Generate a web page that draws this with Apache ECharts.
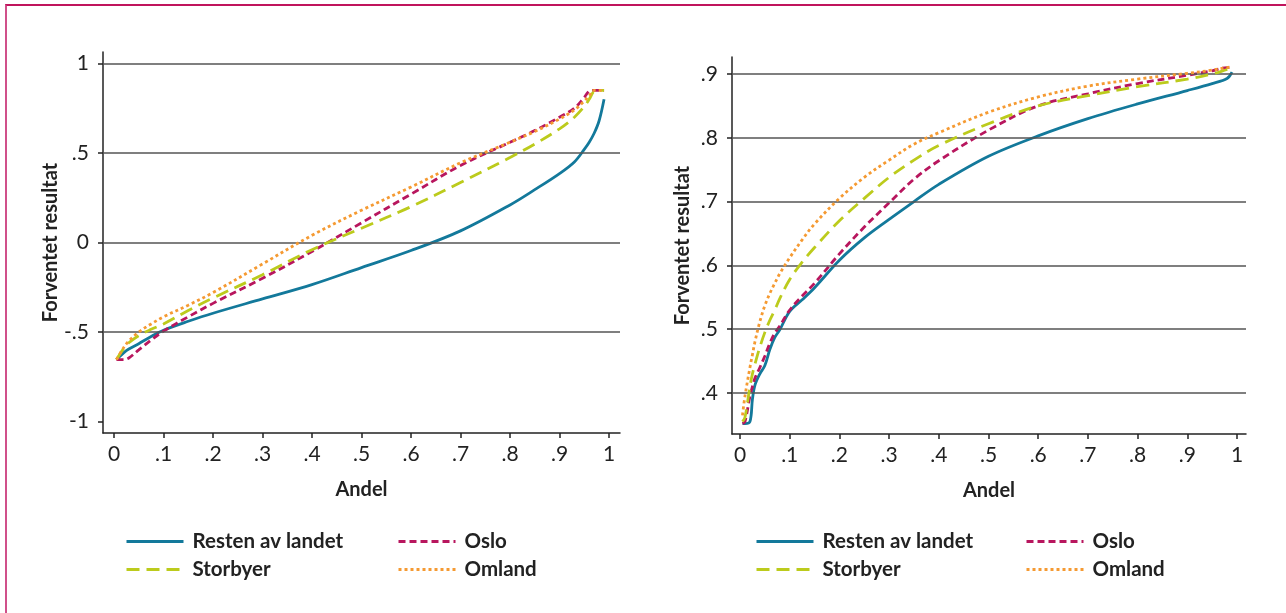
<!DOCTYPE html>
<html>
<head>
<meta charset="utf-8">
<script src="https://cdn.jsdelivr.net/npm/echarts@6/dist/echarts.min.js"></script>
<style>
html,body{margin:0;padding:0;background:#fff;}
#frame{position:absolute;left:5px;top:4px;width:1290px;height:620px;border-left:2px solid #d0508a;border-top:2px solid #c0145c;box-sizing:border-box;}
#chart{position:absolute;left:0;top:0;width:1286px;height:613px;}
</style>
</head>
<body>
<div id="frame"></div>
<div id="chart"></div>
<script>
// ---- data ----
const seriesNames = ['Resten av landet', 'Oslo', 'Storbyer', 'Omland'];
const xTicks = [0, 0.1, 0.2, 0.3, 0.4, 0.5, 0.6, 0.7, 0.8, 0.9, 1];
const xTickLabels = ['0', '.1', '.2', '.3', '.4', '.5', '.6', '.7', '.8', '.9', '1'];
const leftYTicks = [-1, -0.5, 0, 0.5, 1];
const leftYTickLabels = ['-1', '-.5', '0', '.5', '1'];
const leftGridLines = [-0.5, 0, 0.5, 1];
const rightYTicks = [0.4, 0.5, 0.6, 0.7, 0.8, 0.9];
const rightYTickLabels = ['.4', '.5', '.6', '.7', '.8', '.9'];

// Left panel
const leftX = [0.005,0.02,0.03,0.05,0.075,0.1,0.15,0.2,0.3,0.4,0.5,0.6,0.7,0.8,0.85,0.9,0.93,0.95,0.96,0.97,0.98,0.99];
const leftResten = [-.654,-.615,-.595,-.565,-.525,-.49,-.44,-.395,-.315,-.235,-.14,-.045,.065,.21,.295,.385,.45,.52,.56,.61,.68,.80];
const leftOslo = [-.654,-.654,-.645,-.6,-.545,-.495,-.415,-.34,-.2,-.05,.11,.27,.43,.56,.625,.70,.75,.81,.845,.85,.85,.85];
const leftStorbyer = [-.654,-.59,-.56,-.52,-.485,-.455,-.38,-.31,-.18,-.04,.08,.2,.335,.475,.55,.635,.70,.76,.80,.845,.85,.85];
const leftOmland = [-.654,-.585,-.55,-.5,-.455,-.415,-.35,-.28,-.12,.04,.18,.31,.445,.56,.62,.69,.74,.79,.82,.85,.85,.85];

// Right panel
const rightX = [0.005,0.01,0.02,0.025,0.03,0.04,0.05,0.06,0.07,0.08,0.1,0.125,0.15,0.2,0.25,0.3,0.35,0.4,0.5,0.6,0.7,0.8,0.9,0.95,0.98,0.99];
const rightResten = [.352,.352,.355,.39,.412,.43,.443,.468,.487,.499,.528,.546,.565,.608,.643,.672,.700,.727,.771,.803,.830,.853,.874,.885,.893,.903];
const rightOslo = [.352,.355,.395,.41,.423,.44,.458,.478,.494,.505,.53,.552,.572,.618,.66,.698,.735,.764,.812,.85,.869,.885,.898,.905,.91,.91];
const rightStorbyer = [.355,.362,.41,.43,.445,.472,.495,.514,.53,.548,.578,.605,.628,.67,.705,.738,.765,.788,.822,.85,.866,.88,.892,.9,.907,.909];
const rightOmland = [.365,.395,.44,.46,.48,.512,.537,.556,.572,.587,.612,.64,.665,.705,.738,.765,.79,.808,.84,.864,.881,.892,.901,.906,.91,.911];

// ---- styles ----
const FONT = 'Lato, "Noto Sans", sans-serif';
const TXT = '#222';
const styles = [
  {color: '#13799b', type: 'solid'},
  {color: '#b8165e', type: [7, 4]},
  {color: '#bccb1c', type: [13, 7]},
  {color: '#f59a32', type: [3, 3]}
];

function zip(xs, ys) { return xs.map((x, i) => [x, ys[i]]); }

function makeX(gridIndex) {
  return {
    type: 'value', gridIndex,
    min: gridIndex === 0 ? -0.0222 : -0.0161,
    max: gridIndex === 0 ? 1.0222 : 1.0181,
    name: 'Andel', nameLocation: 'middle', nameGap: 47,
    nameTextStyle: {fontFamily: FONT, fontSize: 20, color: TXT, fontWeight: 'bold'},
    axisLine: {show: true, onZero: false, lineStyle: {color: '#222', width: 1.5}},
    axisTick: {show: true, length: 5, customValues: xTicks, lineStyle: {color: '#222', width: 1.5}},
    axisLabel: {
      customValues: xTicks, margin: 11, fontFamily: FONT, fontSize: 21, color: TXT,
      formatter: v => xTickLabels[xTicks.findIndex(t => Math.abs(t - v) < 1e-9)] ?? ''
    },
    splitLine: {show: false}
  };
}
function makeY(gridIndex, min, max, ticks, labels) {
  return {
    type: 'value', gridIndex, min, max,
    name: 'Forventet resultat', nameLocation: 'middle', nameGap: 39,
    nameTextStyle: {fontFamily: FONT, fontSize: 20, color: TXT, fontWeight: 'bold'},
    axisLine: {show: true, onZero: false, lineStyle: {color: '#222', width: 1.5}},
    axisTick: {show: true, length: 5, customValues: ticks, lineStyle: {color: '#222', width: 1.5}},
    axisLabel: {
      customValues: ticks, margin: 14, fontFamily: FONT, fontSize: 21, color: TXT,
      formatter: v => labels[ticks.findIndex(t => Math.abs(t - v) < 1e-9)] ?? ''
    },
    splitLine: {show: false}
  };
}

function makeSeries(gridIndex, xs, arrays, gridVals) {
  return arrays.map((ys, i) => {
    const s = {
      name: seriesNames[i], type: 'line',
      xAxisIndex: gridIndex, yAxisIndex: gridIndex,
      data: zip(xs, ys), showSymbol: false, symbol: 'none',
      smooth: 0.35,
      lineStyle: {color: styles[i].color, width: 2.8, type: styles[i].type, cap: 'butt'},
      itemStyle: {color: styles[i].color},
      z: 3 + i, animation: false
    };
    if (i === 0) {
      s.markLine = {
        silent: true, symbol: 'none', animation: false,
        label: {show: false},
        lineStyle: {color: '#555', width: 1.5, type: 'solid'},
        data: gridVals.map(v => ({yAxis: v}))
      };
      s.z = 3;
    }
    return s;
  });
}

function makeLegend(left, names) {
  return {
    orient: 'vertical', left, top: 531, padding: 0,
    data: names, itemWidth: 57, itemHeight: 14, itemGap: 7,
    selectedMode: false,
    itemStyle: {opacity: 0, borderWidth: 0},
    lineStyle: {width: 3},
    textStyle: {fontFamily: FONT, fontSize: 20.5, color: TXT, fontWeight: 'bold', lineHeight: 20, padding: [0, 0, 0, 4]}
  };
}

const chart = echarts.init(document.getElementById('chart'), null, {renderer: 'canvas'});
chart.setOption({
  animation: false,
  backgroundColor: 'transparent',
  grid: [
    {left: 103, top: 52, width: 517, height: 381, containLabel: false, outerBoundsMode: 'none'},
    {left: 732, top: 57, width: 514, height: 377, containLabel: false, outerBoundsMode: 'none'}
  ],
  xAxis: [makeX(0), makeX(1)],
  yAxis: [
    makeY(0, -1.064, 1.064, leftYTicks, leftYTickLabels),
    makeY(1, 0.3357, 0.9266, rightYTicks, rightYTickLabels)
  ],
  legend: [
    makeLegend(125, [seriesNames[0], seriesNames[2]]),
    makeLegend(397, [seriesNames[1], seriesNames[3]]),
    makeLegend(755, [seriesNames[0], seriesNames[2]]),
    makeLegend(1025, [seriesNames[1], seriesNames[3]])
  ],
  series: [
    ...makeSeries(0, leftX, [leftResten, leftOslo, leftStorbyer, leftOmland], leftGridLines),
    ...makeSeries(1, rightX, [rightResten, rightOslo, rightStorbyer, rightOmland], rightYTicks)
  ]
});
</script>
</body>
</html>
